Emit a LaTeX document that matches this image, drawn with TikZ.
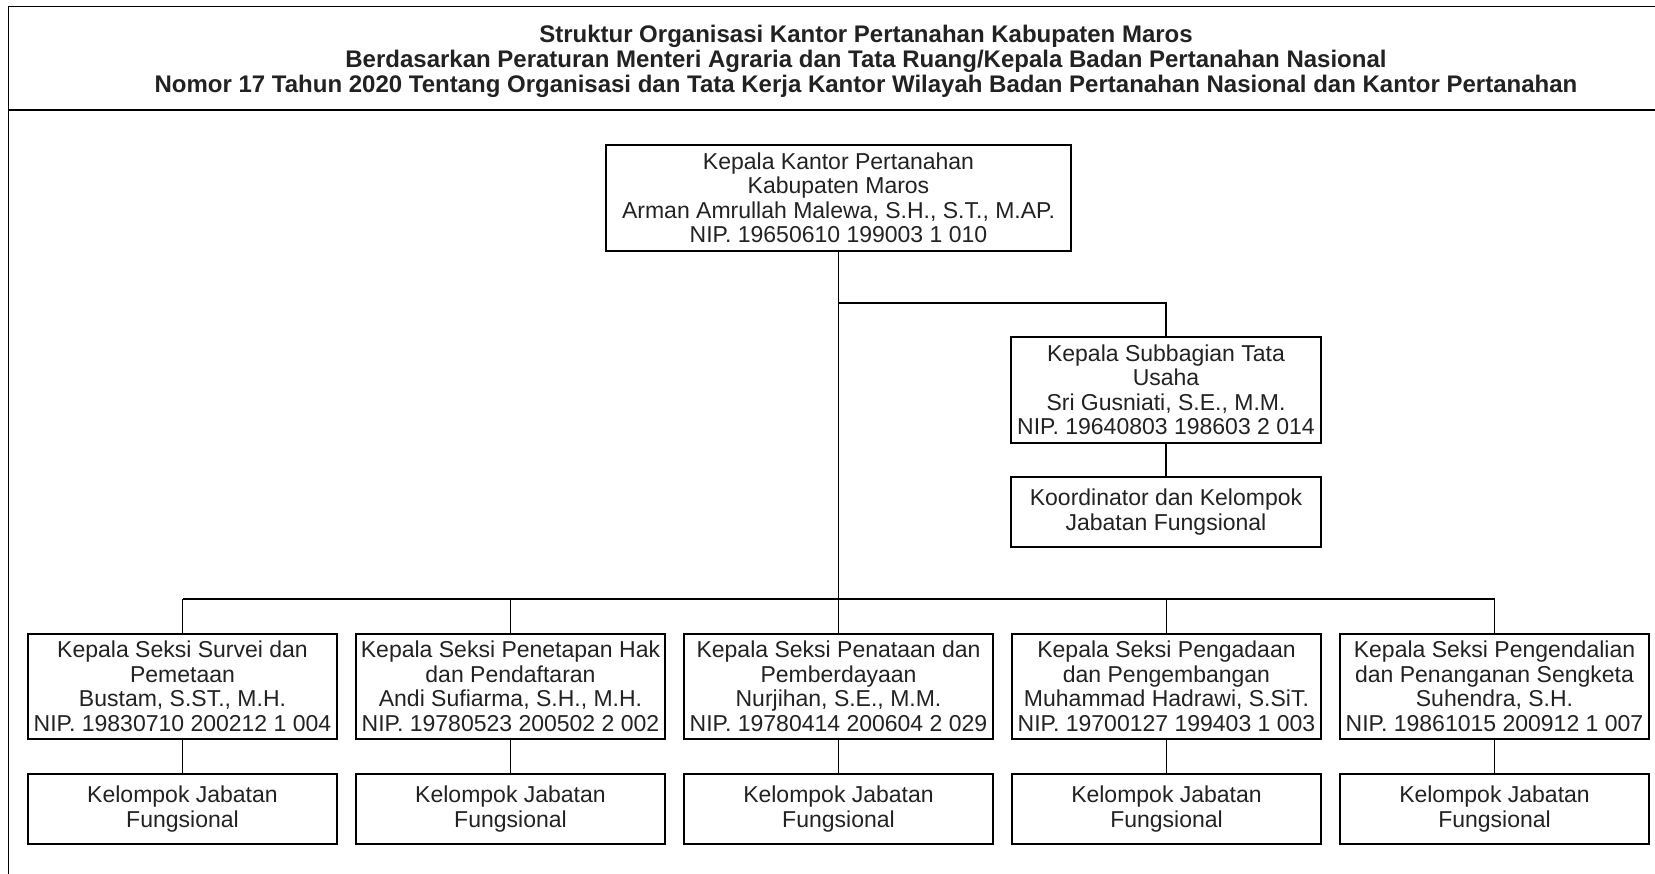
\documentclass[tikz,border=0pt]{standalone}
\usepackage{fontspec}
\setmainfont{Liberation Sans}
\definecolor{txt}{HTML}{222222}
\begin{document}
\begin{tikzpicture}[x=1pt,y=-1pt]
\tikzset{
 box/.style={draw=black, line width=1.3pt, align=center, inner sep=0pt, text=txt, font=\fontsize{23}{24.5}\selectfont},
 sek/.style={box, minimum width=309pt, minimum height=105pt},
 kel/.style={box, minimum width=309pt, minimum height=70pt},
 conn/.style={line width=1.3pt, draw=black},
 frame/.style={line width=1.6pt, draw=black},
 ttl/.style={align=center, inner sep=0pt, text=txt, font=\bfseries\fontsize{24}{25}\selectfont}
}
\useasboundingbox (0,0) rectangle (1655,874);
\clip (0,0) rectangle (1655,874);
\draw[frame] (8.5,6.5) rectangle (1670,890);
\draw[frame] (8.5,110) -- (1670,110);
\node[ttl] (title) at (866,61.5) {Struktur Organisasi Kantor Pertanahan Kabupaten Maros\\Berdasarkan Peraturan Menteri Agraria dan Tata Ruang/Kepala Badan Pertanahan Nasional\\Nomor 17 Tahun 2020 Tentang Organisasi dan Tata Kerja Kantor Wilayah Badan Pertanahan Nasional dan Kantor Pertanahan};
\node[box, minimum width=465pt, minimum height=106pt] (kk) at (838.5,198) {Kepala Kantor Pertanahan\\Kabupaten Maros\\Arman Amrullah Malewa, S.H., S.T., M.AP.\\NIP. 19650610 199003 1 010};
\node[box, minimum width=310pt, minimum height=106pt] (tu) at (1166,390) {Kepala Subbagian Tata\\Usaha\\Sri Gusniati, S.E., M.M.\\NIP. 19640803 198603 2 014};
\node[box, minimum width=310pt, minimum height=70pt] (kjf) at (1166,512) {Koordinator dan Kelompok\\Jabatan Fungsional};
\node[sek] (s1) at (182.5,686.5) {Kepala Seksi Survei dan\\Pemetaan\\Bustam, S.ST., M.H.\\NIP. 19830710 200212 1 004};
\node[sek] (s2) at (510.5,686.5) {Kepala Seksi Penetapan Hak\\dan Pendaftaran\\Andi Sufiarma, S.H., M.H.\\NIP. 19780523 200502 2 002};
\node[sek] (s3) at (838.5,686.5) {Kepala Seksi Penataan dan\\Pemberdayaan\\Nurjihan, S.E., M.M.\\NIP. 19780414 200604 2 029};
\node[sek] (s4) at (1166.5,686.5) {Kepala Seksi Pengadaan\\dan Pengembangan\\Muhammad Hadrawi, S.SiT.\\NIP. 19700127 199403 1 003};
\node[sek] (s5) at (1494.5,686.5) {Kepala Seksi Pengendalian\\dan Penanganan Sengketa\\Suhendra, S.H.\\NIP. 19861015 200912 1 007};
\foreach \i in {1,...,5}{
  \node[kel] (k\i) at (s\i |- 0,809) {Kelompok Jabatan\\Fungsional};
}
\coordinate (br) at (838.5,303);
\coordinate (bus) at (838.5,599);
\draw[conn] (kk.south) -- (bus);
\draw[conn] (br) -| (tu.north);
\draw[conn] (tu.south) -- (kjf.north);
\draw[conn] (s1.north |- bus) -- (s5.north |- bus);
\foreach \i in {1,...,5}{
  \draw[conn] (s\i.north |- bus) -- (s\i.north);
  \draw[conn] (s\i.south) -- (k\i.north);
}
\end{tikzpicture}
\end{document}
